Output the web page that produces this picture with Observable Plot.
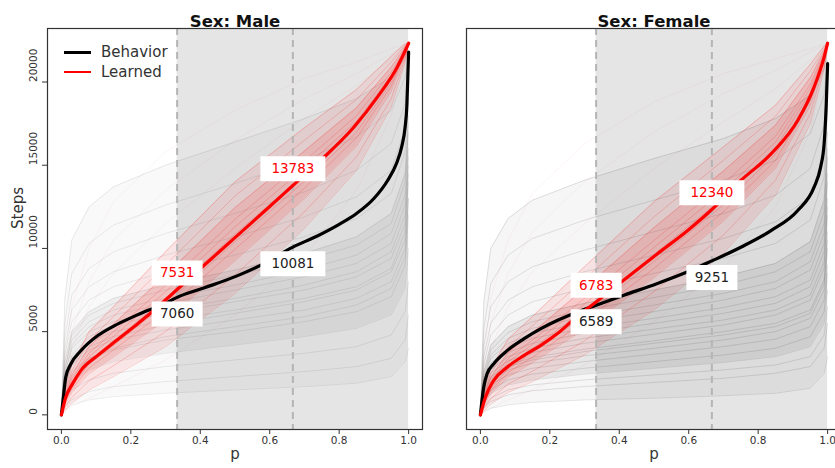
<!DOCTYPE html>
<html><head><meta charset="utf-8">
<script src="https://cdn.jsdelivr.net/npm/d3@7"></script>
<script src="https://cdn.jsdelivr.net/npm/@observablehq/plot@0.6"></script>
<style>
body{margin:0;width:835px;height:468px;overflow:hidden;background:#fff;font-family:"DejaVu Sans",sans-serif;}
#wrap{position:relative;width:835px;height:468px;overflow:hidden;}
.pn{position:absolute;top:0;}
.pn svg{max-width:none !important;}
.lg-line{position:absolute;height:2.5px;width:27px;}
.lg-text{position:absolute;font-size:15px;color:#333;line-height:18px;}
</style></head>
<body><div id="wrap"></div>
<script>
// ---------- data ----------
const gridP = [0, 0.01, 0.03, 0.08, 0.15, 0.3, 0.5, 0.7, 0.85, 0.95, 0.99, 1];
const xTicks = [0, 0.2, 0.4, 0.6, 0.8, 1.0];
const yTicks = [0, 5000, 10000, 15000, 20000];
const quantileP = [1/3, 2/3];
const legendLabels = ["Behavior", "Learned"];
const legendColors = ["#000000", "#ff0000"];

// individual (thin) curves, Steps at gridP
const maleBehaviorCurves = [
  [0, 300, 600, 900, 1100, 1300, 1500, 1700, 1900, 2300, 3200, 4000],
  [0, 500, 900, 1400, 1700, 2000, 2300, 2600, 2900, 3400, 4500, 6000],
  [0, 800, 1500, 2100, 2500, 2900, 3300, 3700, 4100, 4800, 6200, 8000],
  [0, 1200, 2000, 2700, 3200, 3700, 4200, 4700, 5200, 6000, 7600, 10000],
  [0, 1500, 2600, 3400, 3900, 4500, 5000, 5600, 6200, 7100, 9000, 12000],
  [0, 1800, 3000, 3900, 4500, 5100, 5700, 6300, 7000, 8000, 10000, 13000],
  [0, 2200, 3500, 4400, 5000, 5700, 6300, 7000, 7700, 8800, 11000, 14500],
  [0, 2500, 4000, 5000, 5600, 6300, 7000, 7800, 8600, 9800, 12000, 15500],
  [0, 2800, 4500, 5600, 6300, 7000, 7800, 8700, 9600, 10900, 13200, 17000],
  [0, 3200, 5000, 6200, 7000, 7800, 8700, 9700, 10700, 12100, 14500, 18000],
  [0, 3600, 5600, 6900, 7700, 8600, 9600, 10700, 11800, 13300, 15800, 19000],
  [0, 4000, 6300, 7700, 8600, 9600, 10700, 11900, 13100, 14700, 17200, 20000],
  [0, 4600, 7200, 8800, 9800, 10900, 12100, 13400, 14700, 16300, 18700, 21000],
  [0, 5500, 8500, 10300, 11400, 12600, 13900, 15300, 16700, 18300, 20300, 21800],
  [0, 7000, 10500, 12500, 13700, 15000, 16400, 17800, 19000, 20300, 21500, 22200],
  [0, 2000, 3600, 4700, 5400, 6100, 6800, 7500, 8300, 9400, 11500, 15000],
  [0, 1600, 3000, 4100, 4700, 5400, 6100, 6800, 7500, 8600, 10500, 14000],
  [0, 2400, 4200, 5300, 6000, 6700, 7500, 8300, 9100, 10300, 12600, 16000],
  [0, 1000, 2300, 3400, 4000, 4700, 5300, 5900, 6600, 7600, 9500, 13000],
  [0, 2700, 4800, 6000, 6700, 7500, 8400, 9300, 10200, 11500, 14000, 17500]
];
const maleLearnedCurves = [
  [0, 250, 700, 1500, 2300, 4100, 7300, 11200, 14700, 18500, 21200, 22300],
  [0, 450, 1050, 2050, 2950, 5000, 8400, 12200, 15500, 19000, 21400, 22300],
  [0, 620, 1330, 2480, 3480, 5700, 9250, 13000, 16150, 19450, 21570, 22300],
  [0, 750, 1550, 2830, 3900, 6280, 9950, 13620, 16650, 19750, 21680, 22300],
  [0, 840, 1700, 3050, 4170, 6650, 10400, 14030, 16980, 19960, 21750, 22300],
  [0, 930, 1850, 3280, 4440, 7020, 10850, 14440, 17300, 20170, 21820, 22300],
  [0, 1020, 2000, 3500, 4710, 7400, 11300, 14840, 17640, 20380, 21900, 22300],
  [0, 1110, 2150, 3720, 4980, 7780, 11750, 15250, 17970, 20590, 21970, 22300],
  [0, 1250, 2400, 4100, 5450, 8400, 12450, 15850, 18450, 20900, 22080, 22300],
  [0, 1400, 2650, 4450, 5900, 9000, 13150, 16500, 18950, 21200, 22180, 22300],
  [0, 1600, 3000, 5000, 6500, 9800, 14000, 17250, 19550, 21550, 22300, 22300]
];
const maleLearnedOutliers = [
  [0, 2500, 5000, 8000, 10500, 13500, 16500, 19000, 20500, 21700, 22200, 22300],
  [0, 2000, 4000, 6500, 8500, 11500, 14800, 17800, 19800, 21400, 22150, 22300],
  [0, 3200, 6500, 10000, 12800, 15800, 18300, 20200, 21200, 22000, 22250, 22300],
  [0, 200, 500, 1000, 1700, 3300, 6000, 9500, 13500, 18000, 21200, 22300]
];
const femaleBehaviorCurves = [
  [0, 200, 400, 600, 750, 900, 1000, 1150, 1300, 1600, 2500, 3500],
  [0, 400, 800, 1200, 1450, 1700, 1950, 2200, 2500, 2900, 4000, 5500],
  [0, 700, 1300, 1800, 2100, 2450, 2800, 3150, 3500, 4100, 5500, 7500],
  [0, 1000, 1800, 2400, 2800, 3200, 3650, 4100, 4550, 5300, 6900, 9000],
  [0, 1300, 2300, 3000, 3450, 3950, 4450, 5000, 5500, 6300, 8100, 11000],
  [0, 1600, 2700, 3500, 4000, 4600, 5150, 5700, 6300, 7200, 9200, 12500],
  [0, 1900, 3100, 4000, 4600, 5200, 5800, 6450, 7100, 8100, 10300, 14000],
  [0, 2200, 3600, 4600, 5200, 5900, 6600, 7300, 8000, 9200, 11500, 15500],
  [0, 2600, 4200, 5300, 6000, 6700, 7500, 8300, 9100, 10400, 12900, 17000],
  [0, 3000, 4800, 6000, 6800, 7600, 8500, 9400, 10300, 11700, 14300, 18500],
  [0, 3500, 5500, 6900, 7700, 8600, 9600, 10600, 11600, 13100, 15800, 19500],
  [0, 4200, 6500, 8000, 8900, 9900, 11000, 12100, 13200, 14800, 17400, 20500],
  [0, 5200, 7900, 9600, 10600, 11700, 12900, 14100, 15300, 16900, 19200, 21300],
  [0, 6800, 10000, 11800, 12900, 14100, 15400, 16600, 17800, 19200, 20800, 21900],
  [0, 1100, 2000, 2700, 3100, 3550, 4000, 4500, 5000, 5800, 7500, 10000],
  [0, 1400, 2500, 3250, 3750, 4300, 4850, 5400, 6000, 6900, 8800, 12000],
  [0, 1800, 2900, 3750, 4300, 4900, 5500, 6100, 6700, 7700, 9800, 13000],
  [0, 2100, 3400, 4300, 4900, 5550, 6200, 6900, 7600, 8700, 10900, 14500],
  [0, 800, 1500, 2100, 2450, 2800, 3200, 3600, 4000, 4700, 6200, 8500],
  [0, 2400, 3900, 4950, 5600, 6300, 7050, 7800, 8600, 9800, 12200, 16000],
  [0, 500, 1000, 1500, 1800, 2100, 2400, 2700, 3000, 3500, 4800, 6500],
  [0, 1200, 2200, 2900, 3300, 3800, 4300, 4800, 5300, 6100, 7900, 10500]
];
const femaleLearnedCurves = [
  [0, 220, 650, 1350, 2000, 3600, 6300, 9700, 13200, 17500, 20800, 22300],
  [0, 400, 980, 1850, 2620, 4450, 7400, 10800, 14100, 18100, 21050, 22300],
  [0, 550, 1270, 2270, 3140, 5160, 8240, 11640, 14820, 18580, 21230, 22300],
  [0, 660, 1460, 2550, 3470, 5620, 8800, 12200, 15300, 18900, 21350, 22300],
  [0, 740, 1600, 2760, 3730, 5970, 9220, 12620, 15660, 19140, 21440, 22300],
  [0, 830, 1750, 2970, 3980, 6310, 9640, 13040, 16020, 19380, 21530, 22300],
  [0, 910, 1890, 3180, 4240, 6660, 10060, 13460, 16380, 19620, 21620, 22300],
  [0, 990, 2030, 3390, 4490, 7000, 10480, 13880, 16740, 19860, 21710, 22300],
  [0, 1120, 2260, 3750, 4930, 7600, 11250, 14650, 17400, 20250, 21850, 22300],
  [0, 1260, 2500, 4100, 5350, 8150, 11900, 15300, 17950, 20650, 22000, 22300],
  [0, 1450, 2800, 4550, 5900, 8900, 12800, 16100, 18600, 21050, 22150, 22300]
];
const femaleLearnedOutliers = [
  [0, 2800, 5500, 8500, 11000, 14000, 17000, 19300, 20700, 21800, 22200, 22300],
  [0, 2000, 4000, 6500, 8600, 11500, 14800, 17600, 19600, 21300, 22100, 22300],
  [0, 3500, 7000, 10500, 13300, 16300, 18800, 20500, 21400, 22000, 22250, 22300],
  [0, 150, 400, 900, 1500, 3000, 5600, 8800, 12500, 17000, 20800, 22300]
];

// summary (thick) curves
const maleBehaviorP = [0, 0.006, 0.0125, 0.027, 0.056, 0.104, 0.152, 0.2, 0.248, 0.296, 1/3, 0.41, 0.506, 0.573, 2/3, 0.737, 0.8, 0.85, 0.9, 0.94, 0.965, 0.98, 0.99, 0.995, 0.998, 1];
const maleBehaviorSteps = [0, 1100, 2250, 3050, 3850, 4750, 5350, 5830, 6270, 6650, 7060, 7620, 8350, 8980, 10081, 10750, 11450, 12100, 13000, 14100, 15100, 16100, 17300, 18600, 20500, 21800];
const maleLearnedP = [0, 0.0125, 0.032, 0.056, 0.104, 0.152, 0.2, 0.248, 0.296, 1/3, 0.4, 0.5, 0.6, 2/3, 0.746, 0.842, 0.91, 0.967, 1];
const maleLearnedSteps = [0, 1060, 1860, 2660, 3560, 4360, 5150, 5950, 6830, 7531, 8780, 10650, 12520, 13783, 15280, 17280, 19090, 20890, 22330];
const femaleBehaviorP = [0, 0.0096, 0.019, 0.038, 0.077, 0.125, 0.173, 0.221, 0.278, 1/3, 0.415, 0.51, 0.597, 2/3, 0.75, 0.837, 0.914, 0.961, 0.98, 0.99, 0.996, 1];
const femaleBehaviorSteps = [0, 1660, 2460, 3060, 3860, 4570, 5170, 5670, 6170, 6589, 7200, 7900, 8600, 9251, 10070, 11070, 12280, 13680, 14900, 16300, 18600, 21100];
const femaleLearnedP = [0, 0.0144, 0.038, 0.077, 0.125, 0.173, 0.221, 0.278, 1/3, 0.395, 0.51, 0.597, 2/3, 0.75, 0.837, 0.914, 0.961, 0.99, 1];
const femaleLearnedSteps = [0, 1060, 2060, 2860, 3560, 4160, 4870, 5900, 6783, 7800, 9680, 11080, 12340, 14080, 15680, 17690, 19690, 21500, 22330];

// values at the tertile cut points (labels)
const maleBehaviorAtQ = [7060, 10081];
const maleLearnedAtQ = [7531, 13783];
const femaleBehaviorAtQ = [6589, 9251];
const femaleLearnedAtQ = [6783, 12340];

// ---------- helpers ----------
function curveRows(curves, name) {
  const out = [];
  curves.forEach((c, i) => c.forEach((v, j) => out.push({id: name + i, p: gridP[j], v})));
  return out;
}
function bandRows(curves, lo, hi) {
  return gridP.map((p, j) => {
    const vals = curves.map(c => c[j]).sort((a, b) => a - b);
    return {p, y1: vals[lo], y2: vals[hi]};
  });
}
function zipRows(ps, vs) { return ps.map((p, i) => ({p, v: vs[i]})); }
function labelRows(vals, sign) {
  return quantileP.map((p, i) => ({p, v: vals[i], y: vals[i] + sign * 1000, text: String(vals[i])}));
}
function boxSymbol(w, h) {
  return {draw(ctx) {
    ctx.moveTo(-w / 2, -h / 2); ctx.lineTo(w / 2, -h / 2);
    ctx.lineTo(w / 2, h / 2); ctx.lineTo(-w / 2, h / 2); ctx.closePath();
  }};
}
const box5 = boxSymbol(65, 25), box4 = boxSymbol(51, 25);

function panel(cfg) {
  const bLab = labelRows(cfg.bQ, -1), lLab = labelRows(cfg.lQ, +1);
  const allLab = bLab.concat(lLab);
  const nB = cfg.bCurves.length, nL = cfg.lCurves.length;
  const g = cfg.greyK;
  const marks = [
    Plot.rect([{x1: quantileP[0], x2: 1}], {x1: "x1", x2: "x2", fill: "#e5e5e5"}),
    Plot.areaY(bandRows(cfg.bCurves, 0, nB - 1), {x: "p", y1: "y1", y2: "y2", fill: "#000", fillOpacity: 0.025 * g}),
    Plot.areaY(bandRows(cfg.bCurves, 3, nB - 6), {x: "p", y1: "y1", y2: "y2", fill: "#000", fillOpacity: 0.045 * g}),
    Plot.line(curveRows(cfg.bCurves, "b"), {x: "p", y: "v", z: "id", stroke: "#000", strokeOpacity: 0.13 * g, strokeWidth: 0.6}),
    Plot.line(curveRows(cfg.lOut, "o"), {x: "p", y: "v", z: "id", stroke: "#d04040", strokeOpacity: 0.09, strokeWidth: 0.6}),
    Plot.areaY(bandRows(cfg.lCurves, 0, nL - 1), {x: "p", y1: "y1", y2: "y2", fill: "#ff0000", fillOpacity: 0.08}),
    Plot.areaY(bandRows(cfg.lCurves, 2, nL - 3), {x: "p", y1: "y1", y2: "y2", fill: "#ff0000", fillOpacity: 0.11}),
    Plot.line(curveRows(cfg.lCurves, "l"), {x: "p", y: "v", z: "id", stroke: "#ff0000", strokeOpacity: 0.3, strokeWidth: 0.6}),
    Plot.ruleX(quantileP, {stroke: "#b5b5b5", strokeWidth: 2, strokeDasharray: "7,5"}),
    Plot.line(zipRows(cfg.bP, cfg.bV), {x: "p", y: "v", stroke: "#000", strokeWidth: 3.2, curve: "monotone-x"}),
    Plot.line(zipRows(cfg.lP, cfg.lV), {x: "p", y: "v", stroke: "#ff0000", strokeWidth: 3.2, curve: "monotone-x"}),
    Plot.dot(allLab.filter(d => d.text.length === 5), {x: "p", y: "y", symbol: box5, fill: "white", stroke: "none", r: 4}),
    Plot.dot(allLab.filter(d => d.text.length === 4), {x: "p", y: "y", symbol: box4, fill: "white", stroke: "none", r: 4}),
    Plot.text(bLab, {x: "p", y: "y", text: "text", fill: "#222", fontSize: 13.5}),
    Plot.text(lLab, {x: "p", y: "y", text: "text", fill: "#ff0000", fontSize: 13.5}),
    Plot.frame({stroke: "#333", strokeWidth: 1.2}),
    Plot.axisX({ticks: xTicks, tickFormat: d3.format(".1f"), tickSize: 5, tickPadding: 2, fontSize: 10.5, label: null}),
    Plot.text([cfg.title], {frameAnchor: "top", dy: -13, text: d => d, fontWeight: "bold", fontSize: 16.5, fill: "#111"}),
    Plot.text(["p"], {frameAnchor: "bottom", dy: 29, text: d => d, fontSize: 15, fill: "#333"})
  ];
  if (cfg.showY) {
    marks.push(
      Plot.axisY({ticks: yTicks, tickSize: 5, tickFormat: () => "", label: null}),
      Plot.text(yTicks, {y: d => d, frameAnchor: "left", dx: -14, rotate: -90, text: d => String(d), fontSize: 10.5, fill: "#333"}),
      Plot.text(["Steps"], {frameAnchor: "left", dx: -29, rotate: -90, text: d => d, fontSize: 15, fill: "#333"})
    );
  }
  return Plot.plot({
    width: cfg.width, height: 468,
    marginLeft: cfg.mL, marginRight: cfg.mR, marginTop: 28, marginBottom: 39,
    x: {domain: [-0.04, 1.04]},
    y: {domain: [-880, 23215], axis: cfg.showY ? undefined : null},
    style: {fontFamily: "DejaVu Sans, sans-serif", color: "#333", background: "transparent", overflow: "visible"},
    marks
  });
}

const wrap = document.getElementById("wrap");
function place(node, left, width) {
  const d = document.createElement("div");
  d.className = "pn"; d.style.left = left + "px"; d.style.width = width + "px";
  d.appendChild(node); wrap.appendChild(d);
  return d;
}
place(panel({title: "Sex: Male", bCurves: maleBehaviorCurves, lCurves: maleLearnedCurves, lOut: maleLearnedOutliers,
  bP: maleBehaviorP, bV: maleBehaviorSteps, lP: maleLearnedP, lV: maleLearnedSteps,
  bQ: maleBehaviorAtQ, lQ: maleLearnedAtQ, showY: true, width: 444, mL: 47, mR: 22, greyK: 1}), 0, 444);
place(panel({title: "Sex: Female", bCurves: femaleBehaviorCurves, lCurves: femaleLearnedCurves, lOut: femaleLearnedOutliers,
  bP: femaleBehaviorP, bV: femaleBehaviorSteps, lP: femaleLearnedP, lV: femaleLearnedSteps,
  bQ: femaleBehaviorAtQ, lQ: femaleLearnedAtQ, showY: false, width: 420, mL: 22, mR: 23, greyK: 1.4}), 444, 420);

// legend (inside the male panel)
legendLabels.forEach((lab, i) => {
  const ln = document.createElement("div");
  ln.className = "lg-line";
  ln.style.left = "64px"; ln.style.top = (51 + i * 19.5) + "px"; ln.style.background = legendColors[i];
  wrap.appendChild(ln);
  const tx = document.createElement("div");
  tx.className = "lg-text";
  tx.style.left = "101px"; tx.style.top = (43 + i * 19.5) + "px";
  tx.textContent = lab;
  wrap.appendChild(tx);
});
</script>
</body></html>
